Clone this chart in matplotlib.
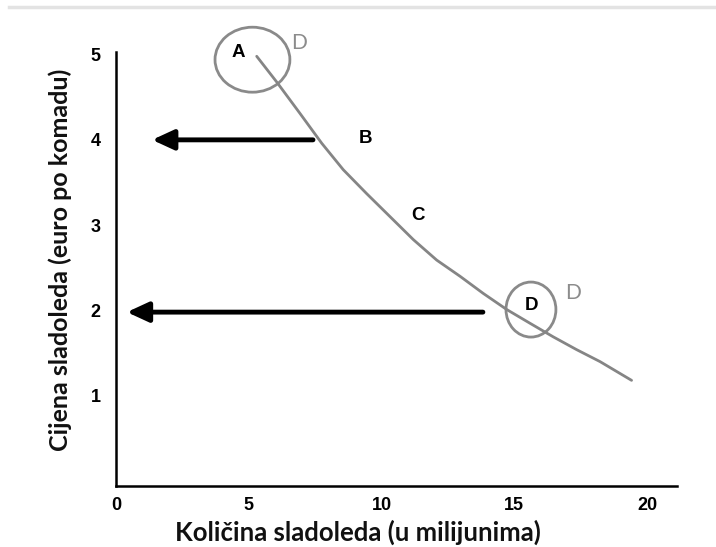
import matplotlib.pyplot as plt
from matplotlib.patches import Ellipse
from matplotlib.lines import Line2D

# demand curve (quantity in millions, price in euro)
quantity = [5.30, 6.05, 6.93, 7.75, 8.56, 9.44, 10.32, 11.20, 12.08,
            12.96, 13.83, 14.72, 15.59, 16.47, 17.35, 18.23, 19.42]
price = [4.98, 4.68, 4.31, 3.96, 3.65, 3.37, 3.10, 2.83, 2.59,
         2.40, 2.20, 2.01, 1.85, 1.69, 1.54, 1.40, 1.18]

x_ticks = [0, 5, 10, 15, 20]
y_ticks = [1, 2, 3, 4, 5]

# point labels: (text, x, y, colour, bold)
point_labels = [
    ("A", 4.59, 5.02, "black", True),
    ("D", 6.89, 5.14, "#8c8c8c", False),
    ("B", 9.38, 4.02, "black", True),
    ("C", 11.37, 3.11, "black", True),
    ("D", 15.66, 2.06, "black", True),
    ("D", 17.21, 2.20, "#8c8c8c", False),
]

# price arrows: (y, x start, x end)
arrows = [(4.0, 7.42, 1.36), (1.98, 13.82, 0.41)]

fig = plt.figure(figsize=(7.16, 5.47), dpi=100)
ax = fig.add_axes([0.162, 0.1115, 0.7835, 0.7934])

ax.plot(quantity, price, color="#858585", lw=2.0, solid_capstyle="round",
        solid_joinstyle="round")

ax.add_patch(Ellipse((5.14, 4.94), 2.82, 0.762, fill=False, edgecolor="#8a8a8a",
                     lw=2.0, clip_on=False))
ax.add_patch(Ellipse((15.63, 2.01), 1.88, 0.645, fill=False, edgecolor="#8a8a8a",
                     lw=2.0, clip_on=False))

for y, x0, x1 in arrows:
    ax.annotate("", xy=(x1, y), xytext=(x0, y),
                arrowprops=dict(arrowstyle="-|>,head_length=1.3,head_width=0.6",
                                color="black", lw=3.5, shrinkA=0, shrinkB=0))

for txt, x, y, col, bold in point_labels:
    if bold:
        ax.text(x, y, txt, color=col, fontsize=13.5, fontweight="bold",
                family="Liberation Sans", ha="center", va="center")
    else:
        ax.text(x, y, txt, color=col, fontsize=15, family="Lato",
                ha="center", va="center")

ax.set_xlim(0, 21.13)
ax.set_ylim(-0.059, 5.03)
ax.set_xticks(x_ticks)
ax.set_yticks(y_ticks)
ax.tick_params(length=0, labelsize=13)
ax.tick_params(axis="x", pad=8)
ax.tick_params(axis="y", pad=11)
for lab in ax.get_xticklabels() + ax.get_yticklabels():
    lab.set_fontweight("bold")
    lab.set_family("Liberation Sans")

for side in ["top", "right"]:
    ax.spines[side].set_visible(False)
for side in ["left", "bottom"]:
    ax.spines[side].set_linewidth(1.8)

fig.text(0.5, 1 - 532 / 547, "Količina sladoleda (u milijunima)", ha="center", va="center",
         fontsize=18.5, fontweight="bold", family="Lato", color="#111111")
fig.text(60 / 716, 1 - 260 / 547, "Cijena sladoleda (euro po komadu)", ha="center", va="center",
         rotation=90, fontsize=18, fontweight="bold", family="Lato", color="#111111")

# thin grey rule along the top edge
fig.add_artist(Line2D([9 / 716, 1], [1 - 7 / 547, 1 - 7 / 547], color="#e3e3e3", lw=2.5))

fig.savefig("out.png", dpi=100)
